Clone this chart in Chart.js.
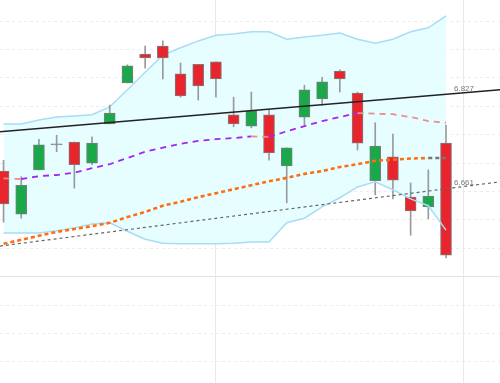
<!DOCTYPE html>
<html>
<head>
<meta charset="utf-8">
<script src="https://cdn.jsdelivr.net/npm/chart.js@4"></script>
<style>
  html, body { margin: 0; padding: 0; background: #fff; }
  #wrap { width: 500px; height: 383px; }
</style>
</head>
<body>
<div id="wrap"><canvas id="candleChart"></canvas></div>
<script>
// candles, one per session (index 0 is cut at the left edge)
const opens  = [6.686, 6.610, 6.688, 6.732, 6.737, 6.700, 6.769, 6.841, 6.892, 6.906, 6.857, 6.874, 6.878,
                6.785, 6.765, 6.785, 6.695, 6.781, 6.813, 6.862, 6.823, 6.669, 6.711, 6.640, 6.623, 6.735];
const highs  = [6.705, 6.676, 6.742, 6.749, 6.737, 6.746, 6.802, 6.873, 6.906, 6.915, 6.876, 6.874, 6.878,
                6.816, 6.825, 6.793, 6.727, 6.837, 6.851, 6.864, 6.825, 6.771, 6.751, 6.665, 6.688, 6.767];
const lows   = [6.596, 6.603, 6.688, 6.720, 6.656, 6.697, 6.769, 6.841, 6.867, 6.848, 6.816, 6.811, 6.816,
                6.764, 6.762, 6.705, 6.630, 6.767, 6.802, 6.825, 6.723, 6.644, 6.637, 6.573, 6.602, 6.533];
const closes = [6.628, 6.661, 6.732, 6.732, 6.697, 6.735, 6.788, 6.871, 6.885, 6.885, 6.818, 6.836, 6.848,
                6.769, 6.792, 6.718, 6.727, 6.829, 6.843, 6.848, 6.735, 6.730, 6.670, 6.616, 6.642, 6.538];

// bollinger bands
const upperBand  = [6.769, 6.769, 6.776, 6.781, 6.783, 6.785, 6.799, 6.829, 6.860, 6.890, 6.903, 6.915, 6.925,
                    6.927, 6.931, 6.931, 6.918, 6.922, 6.925, 6.929, 6.918, 6.911, 6.918, 6.931, 6.938, 6.959];
const middleBand = [6.673, 6.672, 6.677, 6.679, 6.683, 6.691, 6.698, 6.709, 6.720, 6.727, 6.734, 6.739, 6.742,
                    6.744, 6.747, 6.746, 6.756, 6.765, 6.774, 6.781, 6.788, 6.787, 6.786, 6.781, 6.774, 6.771];
const lowerBand  = [6.577, 6.577, 6.577, 6.581, 6.586, 6.593, 6.595, 6.580, 6.566, 6.559, 6.558, 6.558, 6.558,
                    6.559, 6.561, 6.561, 6.595, 6.603, 6.623, 6.639, 6.658, 6.667, 6.653, 6.637, 6.625, 6.582];

// slower moving average
const slowMA = [6.558, 6.565, 6.572, 6.579, 6.584, 6.589, 6.595, 6.605, 6.614, 6.625, 6.632, 6.640, 6.647,
                6.654, 6.661, 6.668, 6.674, 6.681, 6.686, 6.693, 6.698, 6.704, 6.706, 6.708, 6.709, 6.709];

// trend lines (start / end of the view)
const trendX      = [-0.2, 28.05];
const resistance  = [6.755, 6.829];
const support     = [6.554, 6.667];
const trendLabels = ['6.827', '6.661'];

// grid
const yGrid = [6.35, 6.40, 6.45, 6.50, 6.55, 6.60, 6.65, 6.70, 6.75, 6.80, 6.85, 6.90, 6.95];
const xGrid = [12, 26];

const idx = opens.map((_, i) => i);
const pts = arr => arr.map((v, i) => ({ x: i, y: v }));
const line2 = arr => trendX.map((x, i) => ({ x: x, y: arr[i] }));

const candleColor = i => {
    if (closes[i] > opens[i]) return '#1ba84a';
    if (closes[i] < opens[i]) return '#e8252d';
    return '#888';
};

// small text labels sitting on the trend lines
const labelPlugin = {
    id: 'trendLabels',
    afterDatasetsDraw(chart) {
        const { ctx, scales: { x, y } } = chart;
        const at = 25.45;
        const lines = [resistance, support];
        ctx.save();
        ctx.font = '8px "Liberation Sans", Arial, sans-serif';
        ctx.fillStyle = '#777';
        ctx.textBaseline = 'bottom';
        lines.forEach((l, k) => {
            const t = (at - trendX[0]) / (trendX[1] - trendX[0]);
            const v = l[0] + (l[1] - l[0]) * t;
            ctx.fillText(trendLabels[k], x.getPixelForValue(at), y.getPixelForValue(v) - 1);
        });
        ctx.restore();
    }
};

const ctx = document.getElementById('candleChart').getContext('2d');
new Chart(ctx, {
    type: 'bar',
    data: {
        datasets: [
            {
                type: 'line',
                data: pts(upperBand),
                borderColor: '#a9dcf5',
                borderWidth: 1.5,
                backgroundColor: '#e6feff',
                fill: '+1',
                pointRadius: 0,
                order: 20
            },
            {
                type: 'line',
                data: pts(lowerBand),
                borderColor: '#a9dcf5',
                borderWidth: 1.5,
                fill: false,
                pointRadius: 0,
                order: 5
            },
            {
                // wicks
                data: idx.map(i => ({ x: i, y: [lows[i], highs[i]] })),
                backgroundColor: '#9a9a9a',
                barThickness: 1,
                grouped: false,
                order: 12
            },
            {
                // bodies
                data: idx.map(i => ({ x: i, y: [opens[i], closes[i]] })),
                backgroundColor: c => candleColor(c.dataIndex),
                borderColor: '#7d7d7d',
                borderWidth: 1,
                borderSkipped: false,
                barThickness: 11,
                minBarLength: 1,
                grouped: false,
                order: 11
            },
            {
                type: 'line',
                data: pts(middleBand),
                borderWidth: 1.8,
                borderDash: [6, 5],
                pointRadius: 0,
                segment: {
                    borderColor: s => s.p1.parsed.y < s.p0.parsed.y ? '#f08c8c' : '#a326f5'
                },
                order: 3
            },
            {
                type: 'line',
                data: pts(slowMA),
                borderWidth: 2.6,
                borderDash: [4, 3],
                pointRadius: 0,
                segment: {
                    borderColor: s => s.p1DataIndex === slowMA.length - 1 ? '#777' : '#ff6d10'
                },
                order: 2
            },
            {
                type: 'line',
                data: line2(resistance),
                borderColor: '#222',
                borderWidth: 1.5,
                pointRadius: 0,
                order: 1
            },
            {
                type: 'line',
                data: line2(support),
                borderColor: '#666',
                borderWidth: 1.2,
                borderDash: [3, 3],
                pointRadius: 0,
                order: 1
            }
        ]
    },
    options: {
        responsive: true,
        maintainAspectRatio: false,
        animation: false,
        layout: { padding: 0 },
        plugins: {
            legend: { display: false },
            tooltip: { enabled: false },
            filler: { drawTime: 'beforeDatasetsDraw' }
        },
        scales: {
            x: {
                type: 'linear',
                min: -0.2,
                max: 28.05,
                offset: false,
                afterBuildTicks: axis => { axis.ticks = xGrid.map(v => ({ value: v })); },
                ticks: { display: false },
                grid: { color: '#e9e9e9', drawTicks: false, offset: false },
                border: { display: false }
            },
            y: {
                min: 6.313,
                max: 6.987,
                afterBuildTicks: axis => { axis.ticks = yGrid.map(v => ({ value: v })); },
                ticks: { display: false },
                grid: {
                    drawTicks: false,
                    color: c => Math.abs(c.tick.value - 6.5) < 1e-6 ? '#e2e2e2' : '#ececec'
                },
                border: {
                    display: false,
                    dash: c => Math.abs(c.tick.value - 6.5) < 1e-6 ? [] : [3, 3]
                }
            }
        }
    },
    plugins: [labelPlugin]
});
</script>
</body>
</html>
